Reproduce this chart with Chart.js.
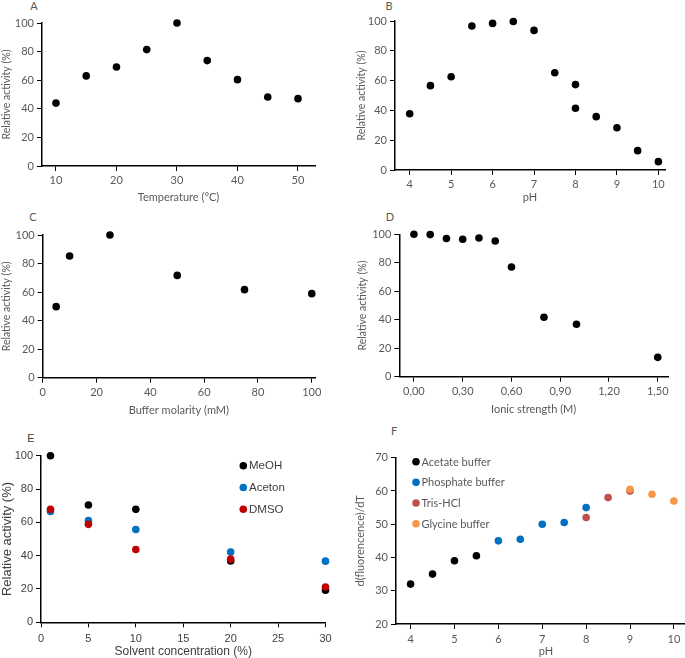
<!DOCTYPE html>
<html>
<head>
<meta charset="utf-8">
<script src="https://cdn.jsdelivr.net/npm/chart.js@4.4.1/dist/chart.umd.min.js"></script>
<style>
html, body { margin: 0; padding: 0; overflow: hidden; background: #fff; }
body { width: 685px; height: 658px; position: relative; }
canvas { position: absolute; }
.tag { position: absolute; font: 11px Lato, sans-serif; color: #595959; transform: translate(-50%, -50%); }
.tag.e { font-family: "Liberation Sans", Arial, sans-serif; color: #404040; }
</style>
</head>
<body>
<div class="tag" style="left:34px;top:5px">A</div>
<div class="tag" style="left:389px;top:5px">B</div>
<div class="tag" style="left:33px;top:216px">C</div>
<div class="tag" style="left:390px;top:216px">D</div>
<div class="tag e" style="left:31px;top:438px">E</div>
<div class="tag" style="left:394px;top:430px">F</div>

<canvas id="chart-a" width="330" height="208" style="left:0;top:0"></canvas>
<canvas id="chart-b" width="330" height="208" style="left:355px;top:0"></canvas>
<canvas id="chart-c" width="330" height="211" style="left:0;top:210px"></canvas>
<canvas id="chart-d" width="329" height="210" style="left:356px;top:210px"></canvas>
<canvas id="chart-e" width="345" height="234" style="left:0;top:425px"></canvas>
<canvas id="chart-f" width="346" height="242" style="left:354px;top:420px"></canvas>

<script>
// A - temperature
let tempC = [10, 15, 20, 25, 30, 35, 40, 45, 50];
let tempActivity = [44, 63, 69.2, 81.4, 100, 73.7, 60.4, 48.3, 47.1];
let tempTicks = [10, 20, 30, 40, 50];

// B - pH
let phValues = [4, 4.5, 5, 5.5, 6, 6.5, 7, 7.5, 8, 8, 8.5, 9, 9.5, 10];
let phActivity = [37.8, 56.6, 62.6, 96.6, 98.4, 99.7, 93.7, 65.3, 57.3, 41.4, 35.8, 28.4, 13, 5.6];
let phTicks = [4, 5, 6, 7, 8, 9, 10];

// C - buffer molarity
let molarity = [5, 10, 25, 50, 75, 100];
let molarityActivity = [49.8, 85.3, 100, 71.7, 61.7, 58.9];
let molarityTicks = [0, 20, 40, 60, 80, 100];

// D - ionic strength
let ionic = [0, 0.1, 0.2, 0.3, 0.4, 0.5, 0.6, 0.8, 1.0, 1.5];
let ionicActivity = [100, 99.8, 97, 96.5, 97.4, 95.3, 77, 41.7, 36.8, 13.6];
let ionicTicks = [0, 0.3, 0.6, 0.9, 1.2, 1.5];
let ionicTickLabels = ['0,00', '0,30', '0,60', '0,90', '1,20', '1,50'];

// E - solvents
let solventConc = [1, 5, 10, 20, 30];
let meoh = [100, 70.4, 67.8, 36.8, 19.2];
let aceton = [66.5, 61, 55.7, 42.2, 36.7];
let dmso = [67.8, 58.8, 43.7, 37.9, 21.2];
let solventTicks = [0, 5, 10, 15, 20, 25, 30];

// F - buffers
let acetatePh = [4, 4.5, 5, 5.5];
let acetateVal = [32, 35, 39, 40.5];
let phosphatePh = [6, 6.5, 7, 7.5, 8];
let phosphateVal = [45, 45.5, 50, 50.5, 55];
let trisPh = [8, 8.5, 9];
let trisVal = [52, 58, 60];
let glycinePh = [9, 9.5, 10];
let glycineVal = [60.5, 59, 57];
let bufferPhTicks = [4, 5, 6, 7, 8, 9, 10];
let fluoTicks = [20, 30, 40, 50, 60, 70];

let activityTicks = [0, 20, 40, 60, 80, 100];

const calibri = 'Lato, sans-serif';
const arial = '"Liberation Sans", Arial, sans-serif';
const grey = '#595959';

function xy(xs, ys) {
    return xs.map((x, i) => ({ x: x, y: ys[i] }));
}

function dots(label, xs, ys, color, order) {
    return {
        label: label,
        data: xy(xs, ys),
        backgroundColor: color,
        borderWidth: 0,
        pointRadius: 3.8,
        clip: false,
        order: order || 0
    };
}

function axis(o) {
    return {
        type: 'linear',
        position: o.pos,
        min: o.min,
        max: o.max,
        afterBuildTicks: s => { s.ticks = o.ticks.map(v => ({ value: v })); },
        afterFit: s => {
            if (o.pos === 'left') s.width = o.size;
            else s.height = o.size;
        },
        grid: { display: true, drawOnChartArea: false, drawTicks: true, tickLength: 5, tickColor: '#000', tickWidth: 1 },
        border: { display: true, color: '#000', width: 1.5 },
        ticks: {
            color: o.color || grey,
            padding: o.tickPad || 3,
            font: { family: o.family || calibri, size: o.tickSize || 11 },
            callback: (v, i) => o.labels ? o.labels[i] : v
        },
        title: {
            display: true,
            text: o.title,
            color: o.color || grey,
            font: { family: o.family || calibri, size: o.titleSize || 11 },
            padding: { top: 0, bottom: o.titlePad === undefined ? 4 : o.titlePad }
        }
    };
}

// small legend drawn inside the plot, dot + label per dataset
const dotLegend = {
    id: 'dotLegend',
    afterDraw(chart, args, opts) {
        if (!opts || opts.x === undefined) return;
        const ctx = chart.ctx;
        ctx.save();
        ctx.font = opts.size + 'px ' + opts.family;
        ctx.textBaseline = 'middle';
        ctx.textAlign = 'left';
        chart.data.datasets.forEach((ds, i) => {
            const y = opts.y + i * opts.gap;
            ctx.fillStyle = ds.backgroundColor;
            ctx.beginPath();
            ctx.arc(opts.x, y, 3.8, 0, Math.PI * 2);
            ctx.fill();
            ctx.fillStyle = opts.color;
            ctx.fillText(ds.label, opts.textX, y + 0.5);
        });
        ctx.restore();
    }
};

function makeChart(id, datasets, x, y, padTop, padRight, legend) {
    return new Chart(document.getElementById(id).getContext('2d'), {
        type: 'scatter',
        data: { datasets: datasets },
        options: {
            responsive: false,
            animation: false,
            layout: { padding: { top: padTop, right: padRight, left: 0, bottom: 0 } },
            plugins: {
                legend: { display: false },
                tooltip: { enabled: false },
                dotLegend: legend || {}
            },
            scales: { x: x, y: y }
        },
        plugins: [dotLegend]
    });
}

let chartA = makeChart('chart-a',
    [dots('A', tempC, tempActivity, '#000')],
    axis({ pos: 'bottom', min: 7.69, max: 52.81, ticks: tempTicks, title: 'Temperature (°C)', size: 42 }),
    axis({ pos: 'left', min: 0, max: 100, ticks: activityTicks, title: 'Relative activity (%)', size: 42, titleSize: 10.5 }),
    23, 15);

let chartB = makeChart('chart-b',
    [dots('B', phValues, phActivity, '#000')],
    axis({ pos: 'bottom', min: 3.645, max: 10.16, ticks: phTicks, title: 'pH', size: 38 }),
    axis({ pos: 'left', min: 0, max: 100, ticks: activityTicks, title: 'Relative activity (%)', size: 40, titleSize: 10.5 }),
    21, 20);

let chartC = makeChart('chart-c',
    [dots('C', molarity, molarityActivity, '#000')],
    axis({ pos: 'bottom', min: 0, max: 101.2, ticks: molarityTicks, title: 'Buffer molarity (mM)', size: 43.3 }),
    axis({ pos: 'left', min: 0, max: 100, ticks: activityTicks, title: 'Relative activity (%)', size: 42.7, titleSize: 10.5 }),
    25, 15);

let chartD = makeChart('chart-d',
    [dots('D', ionic, ionicActivity, '#000')],
    axis({ pos: 'bottom', min: -0.09, max: 1.563, ticks: ionicTicks, labels: ionicTickLabels, title: 'Ionic strength (M)', size: 43.3 }),
    axis({ pos: 'left', min: 0, max: 100, ticks: activityTicks, title: 'Relative activity (%)', size: 43.3, titleSize: 10.5 }),
    24.3, 17);

let chartE = makeChart('chart-e',
    [
        dots('MeOH', solventConc, meoh, '#000000', 3),
        dots('Aceton', solventConc, aceton, '#0070C0', 2),
        dots('DMSO', solventConc, dmso, '#C00000', 1)
    ],
    axis({ pos: 'bottom', min: 0, max: 30, ticks: solventTicks, title: 'Solvent concentration (%)', size: 36.7,
        family: arial, color: '#404040', tickSize: 11, titleSize: 12, titlePad: 0, tickPad: 5 }),
    axis({ pos: 'left', min: 0, max: 100, ticks: activityTicks, title: 'Relative activity (%)', size: 41,
        family: arial, color: '#404040', tickSize: 11, titleSize: 13 }),
    30.7, 19.5,
    { x: 243.3, y: 40.7, gap: 21.8, textX: 249, size: 11.5, family: arial, color: '#404040' });

let chartF = makeChart('chart-f',
    [
        dots('Acetate buffer', acetatePh, acetateVal, '#000000', 4),
        dots('Phosphate buffer', phosphatePh, phosphateVal, '#0070C0', 3),
        dots('Tris-HCl', trisPh, trisVal, '#C0504D', 2),
        dots('Glycine buffer', glycinePh, glycineVal, '#F79646', 1)
    ],
    axis({ pos: 'bottom', min: 3.668, max: 10.503, ticks: bufferPhTicks, title: 'pH', size: 38, tickPad: 4 }),
    axis({ pos: 'left', min: 20, max: 70, ticks: fluoTicks, title: 'd(fluorencence)/dT', size: 42 }),
    37.7, 1,
    { x: 62, y: 41.7, gap: 20.67, textX: 67.5, size: 11, family: calibri, color: grey });
</script>
</body>
</html>
